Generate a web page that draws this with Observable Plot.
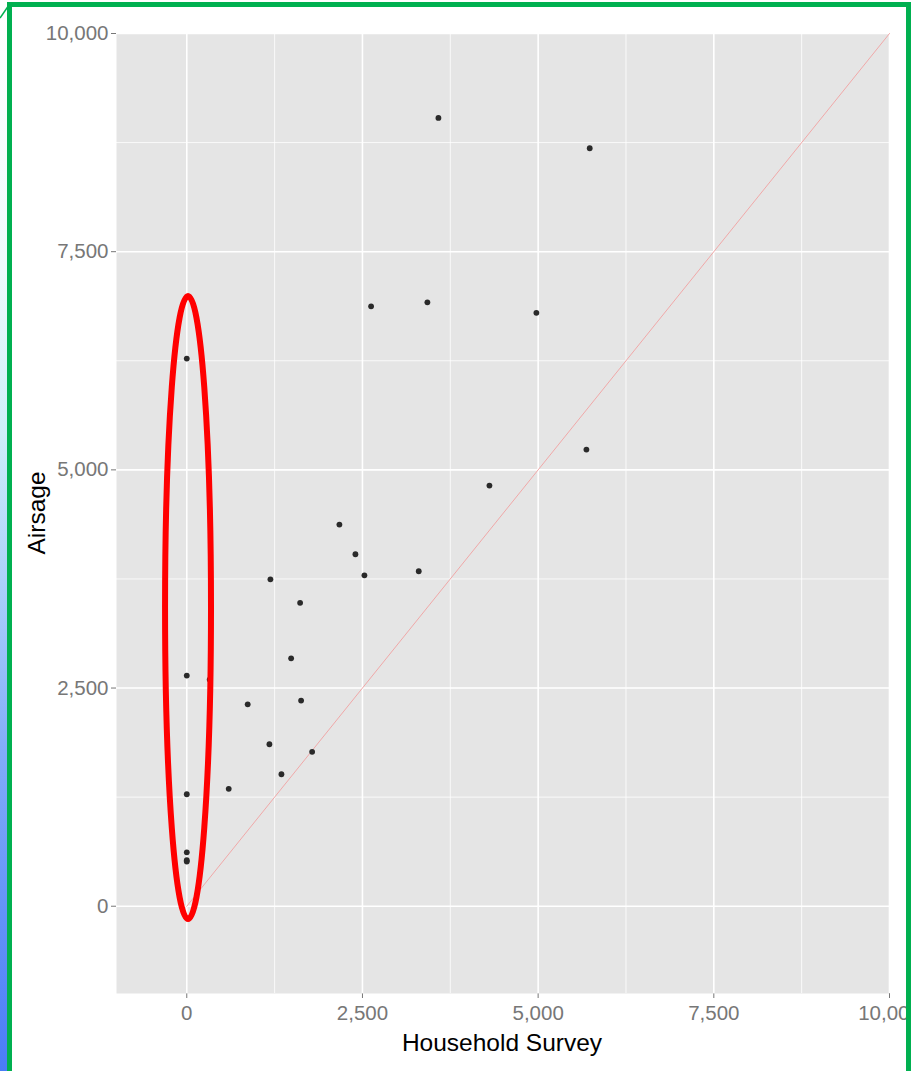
<!DOCTYPE html>
<html>
<head>
<meta charset="utf-8">
<script src="https://cdn.jsdelivr.net/npm/d3@7"></script>
<script src="https://cdn.jsdelivr.net/npm/@observablehq/plot@0.6"></script>
<style>
html, body { margin: 0; padding: 0; background: #fff; }
#wrap { position: relative; width: 912px; height: 1071px; overflow: hidden; font-family: Arial, "Liberation Sans", sans-serif; background: #fff; }
#chart { position: absolute; left: 0; top: 0; }
#strip { position: absolute; left: 0; top: 0; width: 8px; height: 1071px;
  background: linear-gradient(to bottom, #ffffff 0%, #eefafd 25%, #cfeffa 40%, #a9cffb 55%, #82acf9 70%, #6393f8 85%, #4a7cf7 100%); z-index: 2; }
#border { position: absolute; left: 7px; top: 2px; width: 904px; height: 1200px; box-sizing: border-box;
  border: 5px solid #00b050; z-index: 3; pointer-events: none; }
#rightwhite { position: absolute; left: 911px; top: 0; width: 2px; height: 1071px; background: #fff; z-index: 3; }
#corner { position: absolute; left: 0; top: 0; z-index: 4; }
.title { position: absolute; color: #000; font-size: 24.5px; white-space: nowrap; z-index: 1; }
#ytitle { left: 37px; top: 513px; transform: translate(-50%, -50%) rotate(-90deg); }
#xtitle { left: 502px; top: 1029px; transform: translateX(-50%); }
</style>
</head>
<body>
<div id="wrap">
  <div id="chart"></div>
  <div class="title" id="ytitle">Airsage</div>
  <div class="title" id="xtitle">Household Survey</div>
  <div id="strip"></div>
  <div id="border"></div>
  <div id="rightwhite"></div>
  <svg id="corner" width="12" height="22"><line x1="0" y1="18" x2="9" y2="5" stroke="#00b050" stroke-width="1.5"/></svg>
</div>
<script>
// ---- data ----
const householdSurvey = [3581, 5734, 2623, 3424, 4975, 0, 5687, 4307, 2172, 2400, 2528, 3301, 1190, 1613, 1485, 0, 326, 867, 1627, 1176, 1784, 1347, 597, 0, 0, 0, 0];
const airsage         = [9033, 8685, 6874, 6920, 6799, 6275, 5233, 4820, 4373, 4033, 3792, 3838, 3746, 3476, 2841, 2643, 2597, 2314, 2357, 1856, 1769, 1512, 1345, 1283, 618, 527, 512];
const majorTicks = [0, 2500, 5000, 7500, 10000];
const minorTicks = [1250, 3750, 6250, 8750];
const tickLabels = ["0", "2,500", "5,000", "7,500", "10,000"];
const refLineX = [0, 10000];
const refLineY = [0, 10000];
// highlight ellipse (data units)
const ellipseCenter = [25, 3417];
const ellipseRadius = [327, 3569];

const points = householdSurvey.map((x, i) => ({x, y: airsage[i]}));
const refLine = refLineX.map((x, i) => ({x, y: refLineY[i]}));
const fmt = d => tickLabels[majorTicks.indexOf(d)];

function ellipseMark(index, scales) {
  const sx = scales.x, sy = scales.y;
  const cx = sx(ellipseCenter[0]), cy = sy(ellipseCenter[1]);
  const rx = Math.abs(sx(ellipseCenter[0] + ellipseRadius[0]) - cx);
  const ry = Math.abs(sy(ellipseCenter[1] + ellipseRadius[1]) - cy);
  const el = document.createElementNS("http://www.w3.org/2000/svg", "ellipse");
  el.setAttribute("cx", cx); el.setAttribute("cy", cy);
  el.setAttribute("rx", rx); el.setAttribute("ry", ry);
  el.setAttribute("fill", "none");
  el.setAttribute("stroke", "#ff0000");
  el.setAttribute("stroke-width", 6);
  return el;
}

const plot = Plot.plot({
  width: 912,
  height: 1071,
  marginLeft: 116,
  marginRight: 23,
  marginTop: 33,
  marginBottom: 78,
  style: { background: "transparent", fontFamily: "Arial, 'Liberation Sans', sans-serif", fontSize: "20.5px", color: "#777777", overflow: "visible" },
  x: { domain: [-1000, 10000], ticks: majorTicks, tickFormat: fmt, tickSize: 5, tickPadding: 7, label: null },
  y: { domain: [-1000, 10000], ticks: majorTicks, tickFormat: fmt, tickSize: 5, tickPadding: 3, label: null },
  marks: [
    Plot.frame({ fill: "#e5e5e5", stroke: "none" }),
    Plot.ruleX(minorTicks, { stroke: "#ffffff", strokeWidth: 0.8 }),
    Plot.ruleY(minorTicks, { stroke: "#ffffff", strokeWidth: 0.8 }),
    Plot.ruleX(majorTicks, { stroke: "#ffffff", strokeWidth: 1.6 }),
    Plot.ruleY(majorTicks, { stroke: "#ffffff", strokeWidth: 1.6 }),
    Plot.line(refLine, { x: "x", y: "y", stroke: "#f0a8a8", strokeWidth: 1 }),
    Plot.dot(points, { x: "x", y: "y", r: 2.9, fill: "#2a2a2a", stroke: "none" }),
    ellipseMark
  ]
});
document.getElementById("chart").appendChild(plot);
</script>
</body>
</html>
